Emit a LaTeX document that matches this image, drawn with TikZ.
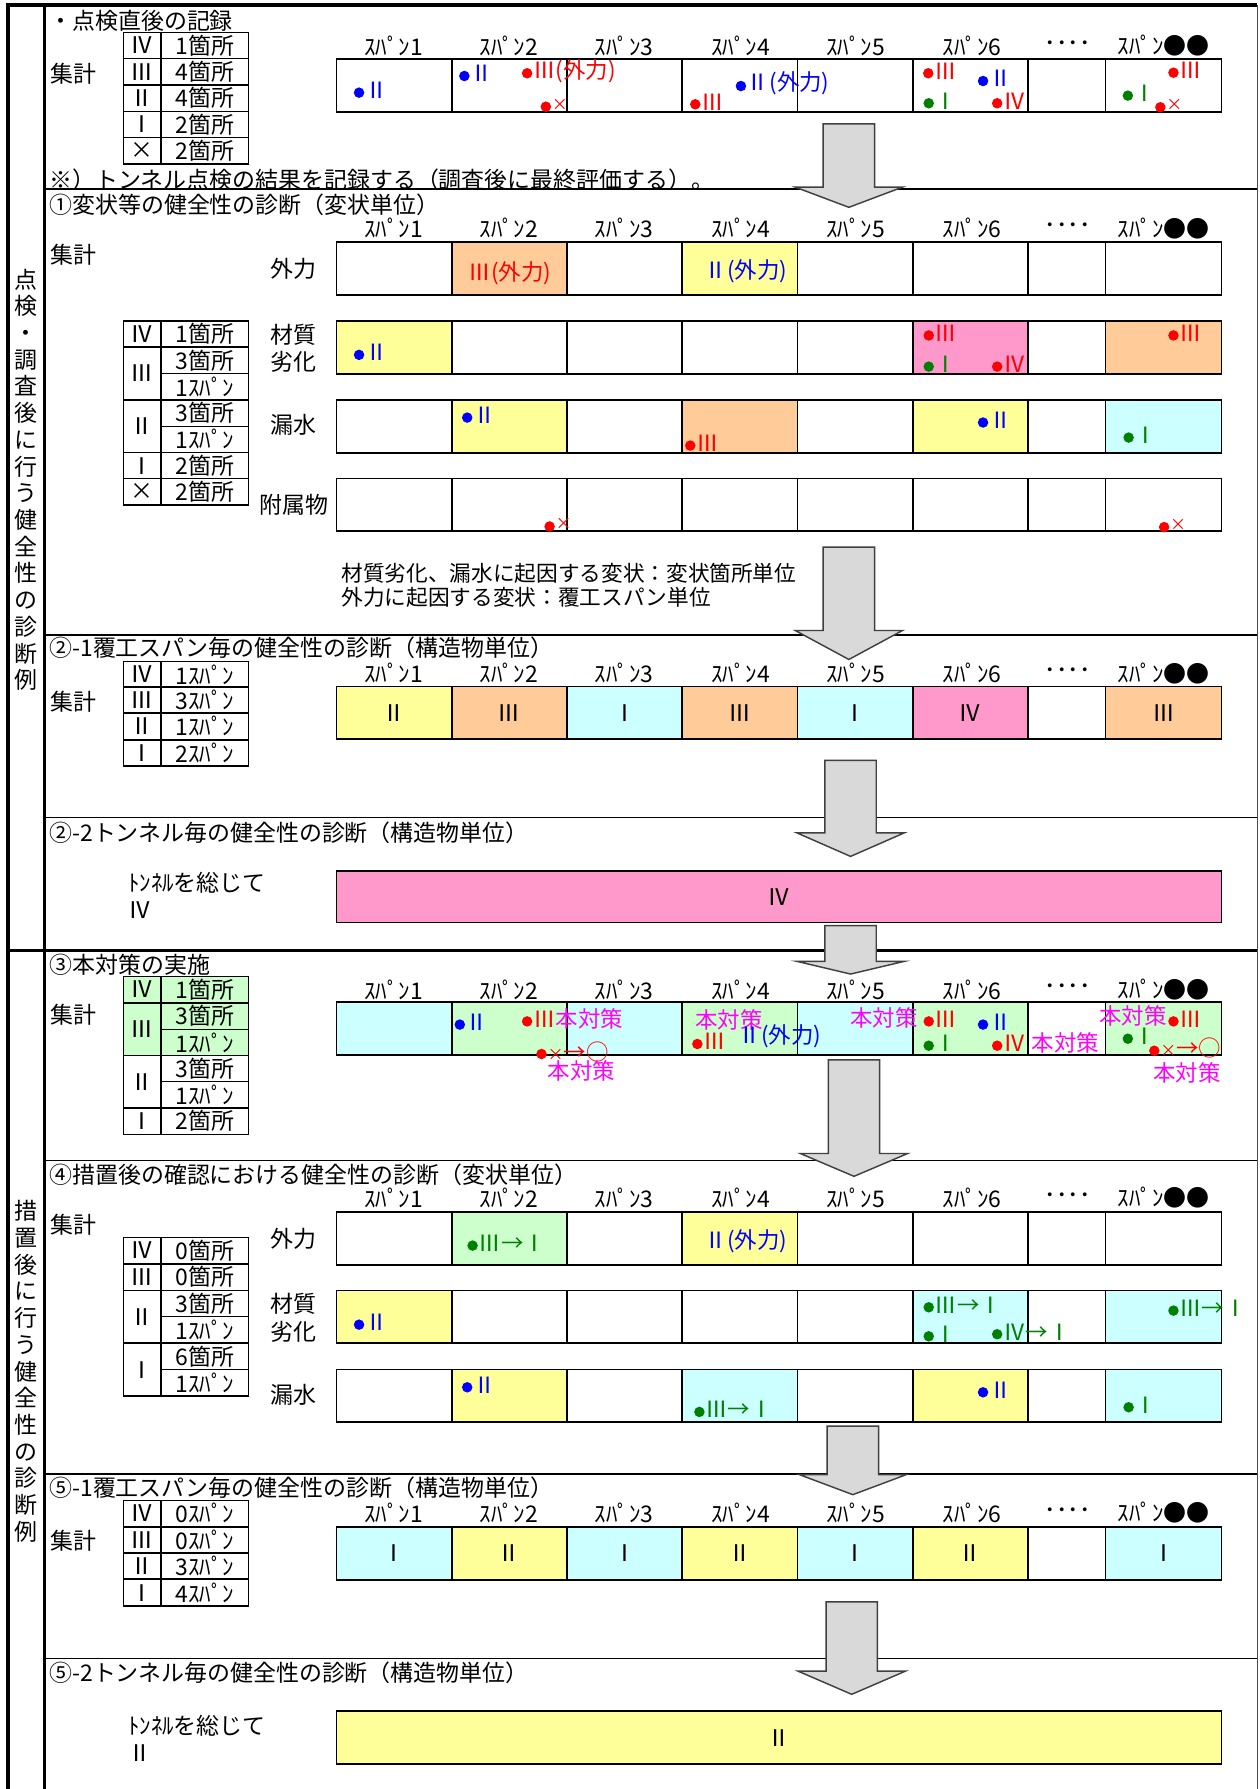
\documentclass[tikz,border=0pt]{standalone}
\usepackage{fontspec}
\setmainfont{Noto Sans CJK JP}
\definecolor{cyel}{HTML}{FFFF99}
\definecolor{cora}{HTML}{FFCC99}
\definecolor{ccya}{HTML}{CCFFFF}
\definecolor{cpnk}{HTML}{FF99CC}
\definecolor{cgrn}{HTML}{CCFFCC}
\definecolor{mblue}{HTML}{0000FF}
\definecolor{mred}{HTML}{FF0000}
\definecolor{mgrn}{HTML}{008000}
\definecolor{mmag}{HTML}{FF00FF}
\definecolor{arrgray}{HTML}{D9D9D9}
\newcommand{\fT}{\fontsize{14.3pt}{17pt}\selectfont}
\newcommand{\fM}{\fontsize{14pt}{16pt}\selectfont}
\newcommand{\fS}{\fontsize{13.5pt}{16pt}\selectfont}
\newcommand{\sx}{{\fontsize{10pt}{12pt}\selectfont ×}}
\tikzset{%
	cell/.style={draw=black,line width=1.1pt},
	tcell/.style={draw=black,line width=0.9pt},
	ttl/.style={anchor=west,inner sep=0pt,font=\fT},
	lab/.style={inner sep=0pt,font=\fT},
	mtxt/.style={anchor=west,inner sep=0pt,font=\fM},
	sep/.style={line width=1pt},
	blk/.style={draw=black!75,fill=arrgray,line width=0.9pt},
}
% span columns: 8 boxes in one row
\newcommand{\spanrow}[9]{%
	\foreach \xa/\xb/\fc in {295/396/#2,396/497/#3,497/598/#4,598/699/#5,699/800/#6,800/901/#7,901/969/#8,969/1070.6/#9}
		\draw[cell,fill=\fc] (\xa,#1) rectangle (\xb,#1+46.2);}
\newcommand{\spanhead}[1]{%
	\foreach \x/\tx in {345/ｽﾊﾟﾝ1,446/ｽﾊﾟﾝ2,547/ｽﾊﾟﾝ3,649/ｽﾊﾟﾝ4,750/ｽﾊﾟﾝ5,852/ｽﾊﾟﾝ6,936/････,1020/ｽﾊﾟﾝ●●}
		\node[lab] at (\x,#1) {\tx};}
\newcommand{\spanval}[9]{%
	\foreach \x/\val in {345.5/#2,446.5/#3,547.5/#4,648.5/#5,749.5/#6,850.5/#7,935/#8,1019.8/#9}
		\node[lab] at (\x,#1) {\val};}
% marker: colour, x, y, text
\newcommand{\mk}[4]{%
	\fill[#1] (#2,#3) circle[radius=1.15mm];
	\node[mtxt,text=#1] at (#2+5,#3-2) {#4};}
% table rows
\newcommand{\trow}[4][white]{%
	\draw[tcell,fill=#1] (108,#2) rectangle (141,#2+23.1);
	\draw[tcell,fill=#1] (141,#2) rectangle (218,#2+23.1);
	\node[lab] at (124.5,#2+11.5) {#3};
	\node[lab] at (179.5,#2+11.5) {#4};}
\newcommand{\tpair}[5][white]{%
	\draw[tcell,fill=#1] (108,#2) rectangle (141,#2+46.2);
	\draw[tcell,fill=#1] (141,#2) rectangle (218,#2+23.1);
	\draw[tcell,fill=#1] (141,#2+23.1) rectangle (218,#2+46.2);
	\node[lab] at (124.5,#2+23.1) {#3};
	\node[lab] at (179.5,#2+11.5) {#4};
	\node[lab] at (179.5,#2+34.6) {#5};}
% block arrow: x, top, head base, tip
\newcommand{\barrow}[4]{%
	\draw[blk] (#1-22.5,#2) -- (#1+22.5,#2) -- (#1+22.5,#3) -- (#1+47,#3) -- (#1,#4) -- (#1-47,#3) -- (#1-22.5,#3) -- cycle;}

\begin{document}
\begin{tikzpicture}[x=0.025cm,y=-0.025cm]
	\useasboundingbox (0,0) rectangle (1104,1568);
	\fill[white] (0,0) rectangle (1104,1568);

	%FRAME
	\draw[line width=2pt] (7,1568) -- (7,4.4) -- (1102,4.4);
	\draw[line width=0.8pt,black!70] (1102,4.4) -- (1102,1568);
	\draw[line width=1.8pt] (39,4.4) -- (39,1568);
	\foreach \y in {165.9,556.4,716.4,1017,1292,1453.6}
		\draw[sep] (39,\y) -- (1102,\y);
	\draw[line width=2.2pt] (7,833) -- (1102,833); %upper / lower part
	\node[inner sep=0pt,align=center,font=\fontsize{14.3pt}{16.65pt}\selectfont] (side1) at (23,420.5) {点\\検\\・\\調\\査\\後\\に\\行\\う\\健\\全\\性\\の\\診\\断\\例};
	\node[inner sep=0pt,align=center,font=\fontsize{14.3pt}{16.65pt}\selectfont] (side2) at (23,1202) {措\\置\\後\\に\\行\\う\\健\\全\\性\\の\\診\\断\\例};

	%RECORD
	\node[ttl] (t0) at (43,18) {・点検直後の記録};
	\node[ttl] (s0) at (44,65) {集計};
	\trow{28.3}{Ⅳ}{1箇所}
	\trow{51.4}{Ⅲ}{4箇所}
	\trow{74.5}{Ⅱ}{4箇所}
	\trow{97.5}{Ⅰ}{2箇所}
	\trow{120.6}{×}{2箇所}
	\spanhead{40.3}
	\spanrow{51.7}{white}{white}{white}{white}{white}{white}{white}{white}
	\mk{mblue}{314.7}{81.2}{Ⅱ}
	\mk{mblue}{407}{66.6}{Ⅱ}
	\mk{mred}{462}{64.2}{Ⅲ(外力)}
	\mk{mred}{478.4}{93.5}{\sx}
	\mk{mred}{609.4}{91.4}{Ⅲ}
	\mk{mblue}{649.4}{75.4}{Ⅱ(外力)}
	\mk{mred}{813.6}{64.2}{Ⅲ}
	\mk{mblue}{861.6}{71}{Ⅱ}
	\mk{mgrn}{814}{90.5}{Ⅰ}
	\mk{mred}{874}{90.5}{Ⅳ}
	\mk{mred}{1028.5}{63.7}{Ⅲ}
	\mk{mgrn}{988.5}{83.8}{Ⅰ}
	\mk{mred}{1017}{94}{\sx}
	\node[ttl] (n0) at (43,157.7) {※）トンネル点検の結果を記録する（調査後に最終評価する）。};

	%SECTION 1
	\node[ttl] (t1) at (43,179.6) {①変状等の健全性の診断（変状単位）};
	\node[ttl] (s1) at (44,223.4) {集計};
	\spanhead{200}
	\spanrow{212.3}{white}{cora}{white}{cyel}{white}{white}{white}{white}
	\spanrow{281.3}{cyel}{white}{white}{white}{white}{cpnk}{white}{cora}
	\spanrow{350.5}{white}{cyel}{white}{cora}{white}{cyel}{white}{ccya}
	\spanrow{419.4}{white}{white}{white}{white}{white}{white}{white}{white}
	\node[lab] (r1a) at (257.5,235.7) {外力};
	\node[lab,align=center] (r1b) at (257.5,305) {材質\\劣化};
	\node[lab] (r1c) at (257.5,372.4) {漏水};
	\node[lab] (r1d) at (257.5,442.5) {附属物};
	\trow{281.3}{Ⅳ}{1箇所}
	\tpair{304.3}{Ⅲ}{3箇所}{1ｽﾊﾟﾝ}
	\tpair{350.5}{Ⅱ}{3箇所}{1ｽﾊﾟﾝ}
	\trow{396.6}{Ⅰ}{2箇所}
	\trow{419.4}{×}{2箇所}
	\node[lab,font=\fM,text=mred] (g1a) at (447,239.5) {Ⅲ(外力)};
	\node[lab,font=\fM,text=mblue] (g1b) at (654,238) {Ⅱ(外力)};
	\mk{mblue}{314.7}{311}{Ⅱ}
	\mk{mred}{814}{294}{Ⅲ}
	\mk{mgrn}{814}{321.3}{Ⅰ}
	\mk{mred}{874}{321.3}{Ⅳ}
	\mk{mred}{1028.5}{294}{Ⅲ}
	\mk{mblue}{409.5}{366}{Ⅱ}
	\mk{mred}{605}{390.5}{Ⅲ}
	\mk{mblue}{861.6}{370.3}{Ⅱ}
	\mk{mgrn}{989.2}{383.5}{Ⅰ}
	\mk{mred}{481.7}{461.4}{\sx}
	\mk{mred}{1020.3}{462}{\sx}
	\node[anchor=west,inner sep=0pt,font=\fS] (c1a) at (299,502.3) {材質劣化、漏水に起因する変状：変状箇所単位};
	\node[anchor=west,inner sep=0pt,font=\fS] (c1b) at (299,523.4) {外力に起因する変状：覆工スパン単位};

	%SECTION 2-1
	\node[ttl] (t21) at (43,568) {②-1覆工スパン毎の健全性の診断（構造物単位）};
	\node[ttl] (s21) at (44,614.8) {集計};
	\trow{579.7}{Ⅳ}{1ｽﾊﾟﾝ}
	\trow{602.2}{Ⅲ}{3ｽﾊﾟﾝ}
	\trow{625}{Ⅱ}{1ｽﾊﾟﾝ}
	\trow{648.4}{Ⅰ}{2ｽﾊﾟﾝ}
	\spanhead{590}
	\spanrow{601.6}{cyel}{cora}{ccya}{cora}{ccya}{cpnk}{white}{cora}
	\spanval{625}{Ⅱ}{Ⅲ}{Ⅰ}{Ⅲ}{Ⅰ}{Ⅳ}{}{Ⅲ}

	%SECTION 2-2
	\node[ttl] (t22) at (43,730) {②-2トンネル毎の健全性の診断（構造物単位）};
	\node[ttl] (w22a) at (112,774) {ﾄﾝﾈﾙを総じて};
	\node[ttl] (w22b) at (112,797.3) {Ⅳ};
	\draw[cell,fill=cpnk] (295,763.7) rectangle (1070.6,808.5);
	\node[lab] (v22) at (683,786) {Ⅳ};

	%SECTION 3
	\node[ttl] (t3) at (43,845.6) {③本対策の実施};
	\node[ttl] (s3) at (44,889.3) {集計};
	\trow[cgrn]{855.8}{Ⅳ}{1箇所}
	\tpair[cgrn]{879.1}{Ⅲ}{3箇所}{1ｽﾊﾟﾝ}
	\tpair{925}{Ⅱ}{3箇所}{1ｽﾊﾟﾝ}
	\trow{971.1}{Ⅰ}{2箇所}
	\spanhead{867.4}
	\spanrow{878.2}{ccya}{cgrn}{ccya}{cgrn}{ccya}{cgrn}{white}{cgrn}
	\mk{mblue}{403}{898}{Ⅱ}
	\mk{mred}{462}{895.2}{Ⅲ\textcolor{mmag}{本対策}}
	\mk{mred}{474.6}{923.8}{\sx→○}
	\node[lab,font=\fM,text=mmag] (h3a) at (509.5,939) {本対策};
	\node[lab,font=\fM,text=mmag] (h3b) at (639,893.7) {本対策};
	\mk{mred}{611.2}{915}{Ⅲ}
	\node[lab,font=\fM,text=mblue] (g3) at (683.6,908.3) {Ⅱ(外力)};
	\node[lab,font=\fM,text=mmag] (h3c) at (774.8,892.3) {本対策};
	\mk{mred}{814}{895.2}{Ⅲ}
	\mk{mblue}{861.6}{898}{Ⅱ}
	\mk{mgrn}{814}{916.5}{Ⅰ}
	\mk{mred}{874}{916.5}{Ⅳ}
	\node[lab,font=\fM,text=mmag] (h3d) at (934,914.2) {本対策};
	\node[lab,font=\fM,text=mmag] (h3e) at (993,890.8) {本対策};
	\mk{mred}{1028.5}{895.2}{Ⅲ}
	\mk{mgrn}{988.5}{910.4}{Ⅰ}
	\mk{mred}{1011.7}{920.9}{\sx→○}
	\node[lab,font=\fM,text=mmag] (h3f) at (1040.3,940.5) {本対策};

	%SECTION 4
	\node[ttl] (t4) at (43,1029.5) {④措置後の確認における健全性の診断（変状単位）};
	\node[ttl] (s4) at (44,1073.3) {集計};
	\spanhead{1050}
	\spanrow{1062.2}{white}{cgrn}{white}{cyel}{white}{white}{white}{white}
	\spanrow{1131.1}{cyel}{white}{white}{white}{white}{ccya}{white}{ccya}
	\spanrow{1200.4}{white}{cyel}{white}{ccya}{white}{cyel}{white}{ccya}
	\node[lab] (r4a) at (257.5,1085.6) {外力};
	\node[lab,align=center] (r4b) at (257.5,1155) {材質\\劣化};
	\node[lab] (r4c) at (257.5,1222.3) {漏水};
	\trow{1084.4}{Ⅳ}{0箇所}
	\trow{1107.8}{Ⅲ}{0箇所}
	\tpair{1130.9}{Ⅱ}{3箇所}{1ｽﾊﾟﾝ}
	\tpair{1177.3}{Ⅰ}{6箇所}{1ｽﾊﾟﾝ}
	\mk{mgrn}{414.2}{1091.7}{Ⅲ→Ⅰ}
	\node[lab,font=\fM,text=mblue] (g4) at (654,1088) {Ⅱ(外力)};
	\mk{mblue}{314.7}{1161}{Ⅱ}
	\mk{mgrn}{814}{1145.8}{Ⅲ→Ⅰ}
	\mk{mgrn}{814}{1171.2}{Ⅰ}
	\mk{mgrn}{874}{1169.4}{Ⅳ→Ⅰ}
	\mk{mgrn}{1028.5}{1148.7}{Ⅲ→Ⅰ}
	\mk{mblue}{409.5}{1215.9}{Ⅱ}
	\mk{mgrn}{613}{1237.5}{Ⅲ→Ⅰ}
	\mk{mblue}{861.6}{1220.3}{Ⅱ}
	\mk{mgrn}{989.2}{1233.4}{Ⅰ}

	%SECTION 5-1
	\node[ttl] (t51) at (43,1304) {⑤-1覆工スパン毎の健全性の診断（構造物単位）};
	\node[ttl] (s51) at (44,1350.8) {集計};
	\trow{1314.9}{Ⅳ}{0ｽﾊﾟﾝ}
	\trow{1338.2}{Ⅲ}{0ｽﾊﾟﾝ}
	\trow{1361}{Ⅱ}{3ｽﾊﾟﾝ}
	\trow{1384.4}{Ⅰ}{4ｽﾊﾟﾝ}
	\spanhead{1326}
	\spanrow{1338.5}{ccya}{cyel}{ccya}{cyel}{ccya}{cyel}{white}{ccya}
	\spanval{1361.5}{Ⅰ}{Ⅱ}{Ⅰ}{Ⅱ}{Ⅰ}{Ⅱ}{}{Ⅰ}

	%SECTION 5-2
	\node[ttl] (t52) at (43,1466) {⑤-2トンネル毎の健全性の診断（構造物単位）};
	\node[ttl] (w52a) at (112,1512.9) {ﾄﾝﾈﾙを総じて};
	\node[ttl] (w52b) at (112,1536.2) {Ⅱ};
	\draw[cell,fill=cyel] (295,1499.7) rectangle (1070.6,1546.4);
	\node[lab] (v52) at (683,1523) {Ⅱ};

	%ARROWS
	\barrow{744}{108.6}{164}{181.7}
	\barrow{744}{479.6}{552.6}{578}
	\barrow{745.5}{666.5}{730}{750.6}
	\barrow{745.5}{811.3}{842.6}{853.7}
	\barrow{748.5}{929}{1011}{1031}
	\barrow{747.5}{1250}{1292.4}{1310}
	\barrow{746.5}{1404}{1464.7}{1485}
\end{tikzpicture}
\end{document}
